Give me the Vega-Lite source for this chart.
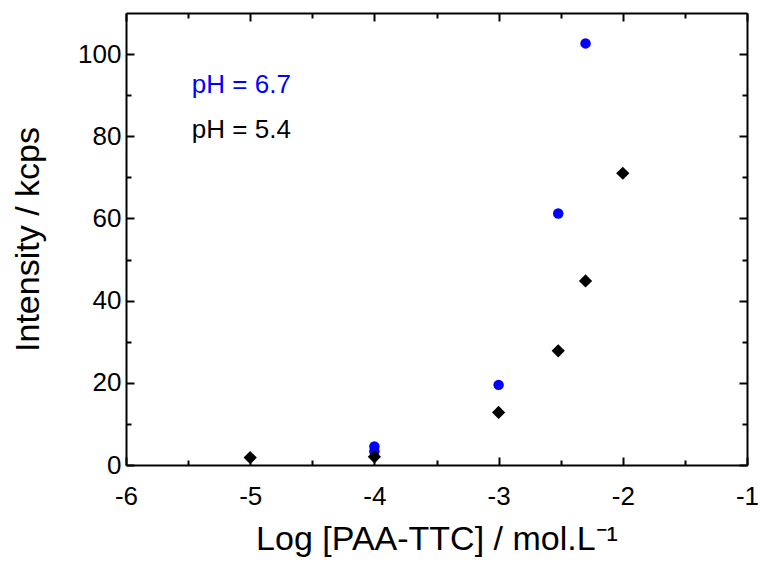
{
  "$schema": "https://vega.github.io/schema/vega-lite/v6.json",
  "width": 621,
  "height": 452,
  "autosize": "none",
  "padding": {"left": 126, "top": 13, "right": 13, "bottom": 102},
  "background": "white",
  "config": {
    "font": "Liberation Sans",
    "view": {"stroke": null},
    "axis": {
      "grid": false,
      "domainColor": "#000000",
      "domainWidth": 2,
      "tickColor": "#000000",
      "tickWidth": 2,
      "labelColor": "#000000",
      "titleColor": "#000000",
      "labelFont": "Liberation Sans",
      "titleFont": "Liberation Sans",
      "labelFontSize": 26,
      "titleFontSize": 34,
      "titleFontWeight": "normal",
      "labelFlush": false,
      "labelOverlap": false
    }
  },
  "layer": [
    {
      "data": {
        "values": [
          {"logc": -4, "intensity": 4.5, "series": "pH = 6.7"},
          {"logc": -4, "intensity": 3.3, "series": "pH = 6.7"},
          {"logc": -3, "intensity": 19.5, "series": "pH = 6.7"},
          {"logc": -2.52, "intensity": 61.2, "series": "pH = 6.7"},
          {"logc": -2.3, "intensity": 102.6, "series": "pH = 6.7"},
          {"logc": -5, "intensity": 1.8, "series": "pH = 5.4"},
          {"logc": -4, "intensity": 2.0, "series": "pH = 5.4"},
          {"logc": -3, "intensity": 12.8, "series": "pH = 5.4"},
          {"logc": -2.52, "intensity": 27.8, "series": "pH = 5.4"},
          {"logc": -2.3, "intensity": 44.8, "series": "pH = 5.4"},
          {"logc": -2, "intensity": 71.0, "series": "pH = 5.4"}
        ]
      },
      "mark": {"type": "point", "filled": true, "opacity": 1},
      "encoding": {
        "x": {
          "field": "logc",
          "type": "quantitative",
          "scale": {"domain": [-6, -1], "nice": false, "zero": false},
          "axis": {
            "orient": "bottom",
            "values": [-6, -5.5, -5, -4.5, -4, -3.5, -3, -2.5, -2, -1.5, -1],
            "labelExpr": "datum.value % 1 === 0 ? '' + datum.value : ''",
            "tickSize": {"condition": {"test": "datum.value % 1 !== 0", "value": -5}, "value": -8},
            "labelPadding": 26,
            "title": "Log [PAA-TTC] / mol.L⁻¹",
            "titlePadding": 10
          }
        },
        "y": {
          "field": "intensity",
          "type": "quantitative",
          "scale": {"domain": [0, 110], "nice": false},
          "axis": {
            "orient": "left",
            "values": [0, 10, 20, 30, 40, 50, 60, 70, 80, 90, 100],
            "labelExpr": "datum.value % 20 === 0 ? '' + datum.value : ''",
            "tickSize": {"condition": {"test": "datum.value % 20 !== 0", "value": -5}, "value": -8},
            "labelPadding": 13,
            "title": "Intensity / kcps",
            "titlePadding": 32
          }
        },
        "color": {
          "field": "series",
          "type": "nominal",
          "scale": {"domain": ["pH = 6.7", "pH = 5.4"], "range": ["#0000ff", "#000000"]},
          "legend": null
        },
        "shape": {
          "field": "series",
          "type": "nominal",
          "scale": {"domain": ["pH = 6.7", "pH = 5.4"], "range": ["circle", "diamond"]},
          "legend": null
        },
        "size": {
          "field": "series",
          "type": "ordinal",
          "scale": {"domain": ["pH = 6.7", "pH = 5.4"], "range": [110, 175]},
          "legend": null
        }
      }
    },
    {
      "data": {
        "values": [
          {"logc": -5.47, "intensity": 92.5, "series": "pH = 6.7"},
          {"logc": -5.47, "intensity": 81.5, "series": "pH = 5.4"}
        ]
      },
      "mark": {"type": "text", "align": "left", "baseline": "middle", "fontSize": 26, "font": "Liberation Sans"},
      "encoding": {
        "x": {
          "field": "logc",
          "type": "quantitative",
          "scale": {"domain": [-6, -1], "nice": false, "zero": false},
          "axis": {
            "orient": "top",
            "values": [-6, -5.5, -5, -4.5, -4, -3.5, -3, -2.5, -2, -1.5, -1],
            "labels": false,
            "title": null,
            "tickSize": {"condition": {"test": "datum.value % 1 !== 0", "value": -5}, "value": -8}
          }
        },
        "y": {
          "field": "intensity",
          "type": "quantitative",
          "scale": {"domain": [0, 110], "nice": false},
          "axis": {
            "orient": "right",
            "values": [0, 10, 20, 30, 40, 50, 60, 70, 80, 90, 100],
            "labels": false,
            "title": null,
            "tickSize": {"condition": {"test": "datum.value % 20 !== 0", "value": -5}, "value": -8}
          }
        },
        "text": {"field": "series"},
        "color": {
          "field": "series",
          "type": "nominal",
          "scale": {"domain": ["pH = 6.7", "pH = 5.4"], "range": ["#0000ff", "#000000"]},
          "legend": null
        }
      }
    }
  ],
  "resolve": {"axis": {"x": "independent", "y": "independent"}}
}
